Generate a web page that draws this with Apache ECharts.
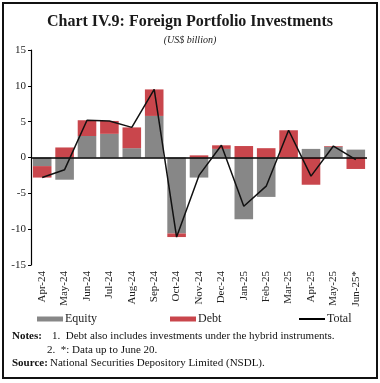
<!DOCTYPE html>
<html><head><meta charset="utf-8">
<script src="https://cdn.jsdelivr.net/npm/echarts@6/dist/echarts.min.js"></script>
<style>html,body{margin:0;padding:0;background:#fff}#c{width:380px;height:383px}</style>
</head><body><div id="c"></div>
<script>
const categories = ['Apr-24','May-24','Jun-24','Jul-24','Aug-24','Sep-24','Oct-24','Nov-24','Dec-24','Jan-25','Feb-25','Mar-25','Apr-25','May-25','Jun-25*'];
const equity = [-1.2, -3.1, 3.0, 3.3, 1.3, 5.8, -10.6, -2.8, 1.2, -8.6, -5.5, 0, 1.2, 1.5, 1.1];
const debt   = [-1.6, 1.4, 2.2, 1.8, 2.9, 3.7, -0.5, 0.3, 0.5, 1.6, 1.3, 3.8, -3.8, 0.1, -1.6];
const total  = [-2.8, -1.7, 5.2, 5.1, 4.2, 9.5, -11.1, -2.5, 1.7, -6.8, -4.0, 3.8, -2.6, 1.6, -0.3];
const yTicks = [-15, -10, -5, 0, 5, 10, 15];

const F = '"Liberation Serif", "DejaVu Serif", serif';
const chart = echarts.init(document.getElementById('c'), null, {renderer:'canvas'});
chart.setOption({
  animation:false,
  backgroundColor:'#fff',
  title:[
    {text:'Chart IV.9: Foreign Portfolio Investments', left:'center', top:9,
     textStyle:{fontFamily:F, fontSize:16, fontWeight:'bold', color:'#1a1a1a'}},
    {text:'(US$ billion)', left:'center', top:30,
     textStyle:{fontFamily:F, fontSize:10, fontStyle:'italic', fontWeight:'normal', color:'#222'}}
  ],
  grid:{left:31, right:13, top:50, bottom:118, containLabel:false},
  xAxis:{type:'category', data:categories,
    axisLine:{show:false}, axisTick:{show:false},
    axisLabel:{rotate:90, interval:0, fontFamily:F, fontSize:11, color:'#222', margin:6}},
  yAxis:{type:'value', min:yTicks[0], max:yTicks[yTicks.length-1], interval:5,
    axisLine:{show:true, lineStyle:{color:'#000', width:1.2}},
    axisTick:{show:true, inside:false, length:3, lineStyle:{color:'#000'}},
    splitLine:{show:false},
    axisLabel:{fontFamily:F, fontSize:11, color:'#222', margin:5}},
  legend:[
    {data:[{name:'Equity', icon:'rect'}], left:32, top:308, itemWidth:26, itemHeight:5, itemGap:4,
     textStyle:{fontFamily:F, fontSize:12, color:'#222', padding:[0,0,0,-3]}},
    {data:[{name:'Debt', icon:'rect'}], left:165, top:308, itemWidth:26, itemHeight:5,
     textStyle:{fontFamily:F, fontSize:12, color:'#222', padding:[0,0,0,-3]}},
    {data:[{name:'Total', icon:'rect', itemStyle:{color:'#000'}}], left:294, top:308, itemWidth:26, itemHeight:2,
     textStyle:{fontFamily:F, fontSize:12, color:'#222', padding:[0,0,0,-3]}}
  ],
  series:[
    {name:'Equity', type:'bar', stack:'s', data:equity, barWidth:'83%',
     itemStyle:{color:'#878787'},
     markLine:{silent:true, symbol:'none', label:{show:false},
       lineStyle:{color:'#000', width:1.5, type:'solid'}, data:[{yAxis:0}]}},
    {name:'Debt', type:'bar', stack:'s', data:debt, barWidth:'83%',
     itemStyle:{color:'#c9464c'}},
    {name:'Total', type:'line', data:total, symbol:'none',
     lineStyle:{color:'#111', width:1.5}, itemStyle:{color:'#000'}, z:5}
  ],
  graphic:[
    {type:'rect', shape:{x:3, y:3, width:374, height:375}, style:{fill:null, stroke:'#111', lineWidth:2}},
    {type:'text', left:12, top:331, style:{text:'Notes:', font:'bold 11px '+F, fill:'#111'}},
    {type:'text', left:52, top:331, style:{text:'1.  Debt also includes investments under the hybrid instruments.', font:'11px '+F, fill:'#111'}},
    {type:'text', left:47, top:345, style:{text:'2.  *: Data up to June 20.', font:'11px '+F, fill:'#111'}},
    {type:'text', left:12, top:358, style:{text:'Source:', font:'bold 11px '+F, fill:'#111'}},
    {type:'text', left:50, top:358, style:{text:'National Securities Depository Limited (NSDL).', font:'11px '+F, fill:'#111'}}
  ]
});
</script></body></html>
